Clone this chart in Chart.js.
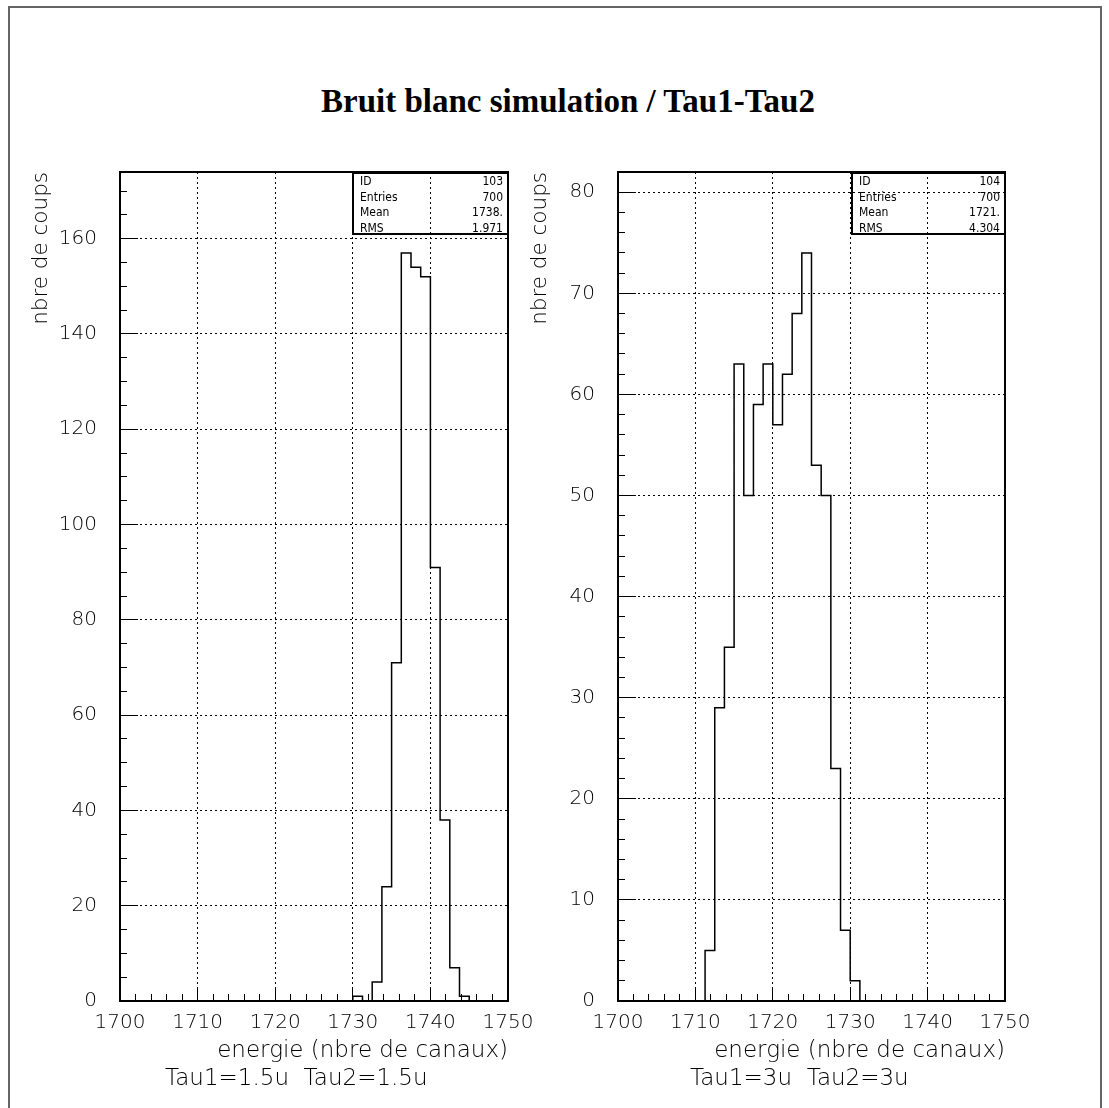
<!DOCTYPE html>
<html>
<head>
<meta charset="utf-8">
<script src="https://cdn.jsdelivr.net/npm/chart.js@4.4.1/dist/chart.umd.min.js"></script>
<style>
    body { margin: 0; background: #fff; }
    #page { position: relative; width: 1109px; height: 1108px; overflow: hidden; background: #fff; }
    #page canvas { position: absolute; left: 0; top: 0; }
    .sheet { position: absolute; left: 8px; top: 6px; width: 1090px; height: 1200px; border: 2px solid #666; }
    .title { position: absolute; left: 0; width: 1136px; top: 83px; text-align: center;
             font: bold 33px "Liberation Serif", "Times New Roman", serif; color: #000; }
    .caption { position: absolute; top: 1064px; font: 200 23px "DejaVu Sans", sans-serif; color: #000; white-space: pre; }
    .stats { position: absolute; top: 172px; height: 63px; box-sizing: border-box; border: 2px solid #000;
             padding: 0 4px 0 6px; font: 12px "DejaVu Sans Condensed", "DejaVu Sans", sans-serif; color: #000; }
    .stats div { display: flex; justify-content: space-between; height: 15.5px; line-height: 15.5px; }
</style>
</head>
<body>
<div id="page">
    <div class="sheet"></div>
    <div class="title">Bruit blanc simulation / Tau1-Tau2</div>
    <canvas id="histLeft" width="1109" height="1108"></canvas>
    <canvas id="histRight" width="1109" height="1108"></canvas>
    <div class="stats" id="statsLeft" style="left:352px;width:157px;"></div>
    <div class="stats" id="statsRight" style="left:851px;width:155px;"></div>
    <div class="caption" style="left:165px;">Tau1=1.5u  Tau2=1.5u</div>
    <div class="caption" style="left:690px;">Tau1=3u  Tau2=3u</div>
</div>
<script>
// bins are 1.25 channels wide, axis runs 1700..1750
const binWidth = 1.25;
const energyMin = 1700;
const energyMax = 1750;

// ID 103: Tau1=1.5u Tau2=1.5u
const leftLowEdges = [1730, 1731.25, 1732.5, 1733.75, 1735, 1736.25, 1737.5, 1738.75, 1740, 1741.25, 1742.5, 1743.75];
const leftCounts = [1, 0, 4, 24, 71, 157, 154, 152, 91, 38, 7, 1];

// ID 104: Tau1=3u Tau2=3u
const rightLowEdges = [1711.25, 1712.5, 1713.75, 1715, 1716.25, 1717.5, 1718.75, 1720, 1721.25, 1722.5, 1723.75, 1725, 1726.25, 1727.5, 1728.75, 1730];
const rightCounts = [5, 29, 35, 63, 50, 59, 63, 57, 62, 68, 74, 53, 50, 23, 7, 2];

const statLabels = ['ID', 'Entries', 'Mean', 'RMS'];
const leftStats = ['103', '700', '1738.', '1.971'];
const rightStats = ['104', '700', '1721.', '4.304'];

const tickFont = { family: '"DejaVu Sans", sans-serif', size: 20, weight: '200' };
const xTitleFont = { family: '"DejaVu Sans", sans-serif', size: 23, weight: '200' };
const yTitleFont = { family: '"DejaVu Sans", sans-serif', size: 21.5, weight: '200' };
const dotted = [2, 3];

const frameBox = {
    id: 'frameBox',
    afterDraw(chart) {
        const { ctx, chartArea: a } = chart;
        ctx.save();
        ctx.strokeStyle = '#000';
        ctx.lineWidth = 2;
        ctx.strokeRect(a.left, a.top, a.right - a.left, a.bottom - a.top);
        ctx.restore();
    },
};

function histPoints(edges, counts) {
    const pts = [{ x: edges[0], y: 0 }];
    edges.forEach((e, i) => pts.push({ x: e, y: counts[i] }));
    pts.push({ x: edges[edges.length - 1] + binWidth, y: 0 });
    return pts;
}

function fillStats(id, values) {
    document.getElementById(id).innerHTML = statLabels
        .map((l, i) => `<div><span>${l}</span><span>${values[i]}</span></div>`)
        .join('');
}

function histogram(canvasId, { edges, counts, yMax, yMajor, yMinor, padLeft, padRight, yTitlePad }) {
    return new Chart(document.getElementById(canvasId), {
        type: 'line',
        data: {
            datasets: [
                {
                    data: histPoints(edges, counts),
                    stepped: 'before',
                    borderColor: '#000',
                    borderWidth: 1.5,
                    pointRadius: 0,
                    fill: false,
                },
            ],
        },
        options: {
            responsive: false,
            animation: false,
            events: [],
            layout: { padding: { left: padLeft, right: padRight, top: 172, bottom: 7 } },
            plugins: {
                legend: { display: false },
                tooltip: { enabled: false },
            },
            scales: {
                x: {
                    type: 'linear',
                    position: 'bottom',
                    min: energyMin,
                    max: energyMax,
                    weight: 10,
                    afterFit: (s) => { s.height = 100; },
                    ticks: {
                        stepSize: 10,
                        autoSkip: false,
                        maxRotation: 0,
                        includeBounds: false,
                        padding: 22,
                        color: '#000',
                        font: tickFont,
                        callback: (v) => String(v),
                    },
                    grid: {
                        color: (c) => (c.tick && c.tick.value > energyMin && c.tick.value < energyMax ? '#000' : 'rgba(0,0,0,0)'),
                        borderDash: dotted,
                        lineWidth: 1,
                        tickLength: -12,
                        tickColor: '#000',
                    },
                    border: { display: false, dash: dotted },
                    title: {
                        display: true,
                        text: 'energie (nbre de canaux)',
                        align: 'end',
                        color: '#000',
                        font: xTitleFont,
                        padding: { top: 0, bottom: 36 },
                    },
                },
                xMinor: {
                    type: 'linear',
                    position: 'bottom',
                    min: energyMin,
                    max: energyMax,
                    weight: 0,
                    afterFit: (s) => { s.height = 0; },
                    ticks: { stepSize: 2, display: false, includeBounds: false },
                    grid: { drawOnChartArea: false, tickLength: -7, tickColor: '#000' },
                    border: { display: false },
                },
                y: {
                    type: 'linear',
                    position: 'left',
                    min: 0,
                    max: yMax,
                    weight: 10,
                    afterFit: (s) => { s.width = 120; },
                    ticks: {
                        stepSize: yMajor,
                        includeBounds: false,
                        padding: 41,
                        color: '#000',
                        font: tickFont,
                        callback: (v) => String(v),
                    },
                    grid: {
                        color: (c) => (c.tick && c.tick.value > 0 ? '#000' : 'rgba(0,0,0,0)'),
                        borderDash: dotted,
                        lineWidth: 1,
                        tickLength: -18,
                        tickColor: '#000',
                    },
                    border: { display: false, dash: dotted },
                    title: {
                        display: true,
                        text: 'nbre de coups',
                        align: 'end',
                        color: '#000',
                        font: yTitleFont,
                        padding: { top: yTitlePad, bottom: 0 },
                    },
                },
                yMinor: {
                    type: 'linear',
                    position: 'left',
                    min: 0,
                    max: yMax,
                    weight: 0,
                    afterFit: (s) => { s.width = 0; },
                    ticks: { stepSize: yMinor, display: false, includeBounds: false },
                    grid: { drawOnChartArea: false, tickLength: -7, tickColor: '#000' },
                    border: { display: false },
                },
            },
        },
        plugins: [frameBox],
    });
}

histogram('histLeft', {
    edges: leftLowEdges,
    counts: leftCounts,
    yMax: 174,
    yMajor: 20,
    yMinor: 5,
    padLeft: 0,
    padRight: 601,
    yTitlePad: 29,
});

histogram('histRight', {
    edges: rightLowEdges,
    counts: rightCounts,
    yMax: 82,
    yMajor: 10,
    yMinor: 2,
    padLeft: 498,
    padRight: 104,
    yTitlePad: 30,
});

fillStats('statsLeft', leftStats);
fillStats('statsRight', rightStats);
</script>
</body>
</html>
